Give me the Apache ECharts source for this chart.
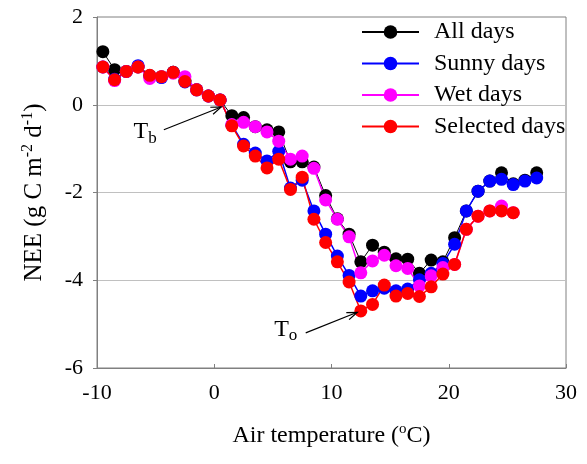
<!DOCTYPE html>
<html><head><meta charset="utf-8">
<script src="https://cdn.jsdelivr.net/npm/echarts@6/dist/echarts.min.js"></script>
<style>html,body{margin:0;padding:0;background:#fff}#c{width:587px;height:464px}</style>
</head><body><div id="c"></div>
<script>
const temps = [-9.5,-8.5,-7.5,-6.5,-5.5,-4.5,-3.5,-2.5,-1.5,-0.5,0.5,1.5,2.5,3.5,4.5,5.5,6.5,7.5,8.5,9.5,10.5,11.5,12.5,13.5,14.5,15.5,16.5,17.5,18.5,19.5,20.5,21.5,22.5,23.5,24.5,25.5,26.5,27.5];
const allDays = [1.21,0.80,0.76,0.86,0.66,0.64,0.74,0.55,0.34,0.20,0.11,-0.25,-0.29,-0.50,-0.57,-0.62,-1.30,-1.30,-1.42,-2.07,-2.60,-2.95,-3.58,-3.20,-3.36,-3.51,-3.52,-3.84,-3.54,-3.58,-3.03,-2.42,-1.97,-1.74,-1.55,-1.80,-1.72,-1.55];
const sunnyDays = [0.86,0.58,0.76,0.89,0.66,0.62,0.74,0.52,0.34,0.20,0.11,-0.46,-0.90,-1.10,-1.28,-1.06,-1.90,-1.72,-2.42,-2.95,-3.45,-3.89,-4.36,-4.24,-4.18,-4.24,-4.20,-3.99,-3.84,-3.62,-3.18,-2.42,-1.97,-1.74,-1.70,-1.82,-1.74,-1.67];
const wetDays = [0.86,0.55,0.76,0.86,0.60,0.64,0.72,0.64,0.34,0.20,0.11,-0.45,-0.40,-0.50,-0.62,-0.83,-1.24,-1.17,-1.45,-2.17,-2.61,-3.01,-3.83,-3.56,-3.43,-3.67,-3.73,-4.13,-3.90,-3.71,-3.64,-2.84,-2.54,-2.42,-2.31,-2.46];
const selectedDays = [0.86,0.57,0.76,0.86,0.67,0.64,0.74,0.53,0.34,0.20,0.11,-0.48,-0.94,-1.17,-1.44,-1.24,-1.93,-1.65,-2.61,-3.14,-3.58,-4.04,-4.70,-4.55,-4.11,-4.36,-4.30,-4.37,-4.15,-3.86,-3.64,-2.84,-2.54,-2.42,-2.42,-2.46];
const seriesNames = ['All days','Sunny days','Wet days','Selected days'];
const seriesColors = ['#000000','#0000ff','#ff00ff','#ff0000'];
const xTicks = [-10,0,10,20,30];
const yTicks = [-6,-4,-2,0,2];

const FONT = '"Liberation Serif","Times New Roman",serif';
const chart = echarts.init(document.getElementById('c'), null, {renderer:'canvas'});
function pairs(xs, ys){ return ys.map((v,i)=>[xs[i], v]); }
const seriesData = [allDays, sunnyDays, wetDays, selectedDays];
const widths = [1, 1.5, 1.5, 1.5];
const series = seriesData.map((d,i)=>({
  name: seriesNames[i], type:'line', data: pairs(temps, d),
  symbol:'circle', symbolSize:13, showSymbol:true, showAllSymbol:true,
  color: seriesColors[i],
  lineStyle:{color:seriesColors[i], width:widths[i], opacity:1, type:'solid'},
  itemStyle:{color:seriesColors[i]}
}));
const option = {
  animation:false,
  backgroundColor:'#fff',
  grid:{left:97, top:17, width:469, height:351, show:true, borderColor:'#808080', borderWidth:1},
  legend:{
    data: seriesNames, orient:'vertical', left:356, top:15, itemWidth:57, itemHeight:17, itemGap:7.5,
    textStyle:{fontFamily:FONT, fontSize:24, color:'#000', padding:[0,0,0,10]},
    selectedMode:false
  },
  xAxis:{
    type:'value', min:xTicks[0], max:xTicks[xTicks.length-1], interval:10,
    axisLine:{show:true, onZero:false, lineStyle:{color:'#808080'}},
    axisTick:{show:true, inside:true, length:4, lineStyle:{color:'#808080'}},
    splitLine:{show:false},
    axisLabel:{fontFamily:FONT, fontSize:22, color:'#000', margin:14},
    name:'{a|Air temperature (}{s|o}{a|C)}', nameLocation:'middle', nameGap:54,
    nameTextStyle:{rich:{a:{fontFamily:FONT, fontSize:24, color:'#000', lineHeight:28}, s:{fontFamily:FONT, fontSize:15, color:'#000', lineHeight:16, verticalAlign:'top'}}}
  },
  yAxis:{
    type:'value', min:yTicks[0], max:yTicks[yTicks.length-1], interval:2,
    axisLine:{show:true, onZero:false, lineStyle:{color:'#808080'}},
    axisTick:{show:true, inside:false, length:4, lineStyle:{color:'#808080'}},
    splitLine:{show:true, lineStyle:{color:['transparent','#c0c0c0','#c0c0c0','#c0c0c0','transparent'], width:1}},
    axisLabel:{fontFamily:FONT, fontSize:22, color:'#000', margin:14},
    name:'{a|NEE (g C m}{s|-2}{a| d}{s|-1}{a|)}', nameLocation:'middle', nameGap:49, nameRotate:90,
    nameTextStyle:{rich:{a:{fontFamily:FONT, fontSize:25, color:'#000', lineHeight:28}, s:{fontFamily:FONT, fontSize:16, color:'#000', lineHeight:16, verticalAlign:'top'}}}
  },
  series: series
};
chart.setOption(option);

// annotations in data coordinates
const annotations = [
  {label:'b', text:[-5.9,-0.62], tail:[-4.3,-0.57], tip:[0.6,-0.05]},
  {label:'o', text:[6.1,-5.12], tail:[7.8,-5.2], tip:[12.2,-4.73]}
];
const g = [];
annotations.forEach(a=>{
  const p0 = chart.convertToPixel({gridIndex:0}, a.tail);
  const p1 = chart.convertToPixel({gridIndex:0}, a.tip);
  const pt = chart.convertToPixel({gridIndex:0}, a.text);
  const ang = Math.atan2(p1[1]-p0[1], p1[0]-p0[0]);
  const L = 11, w = 0.35;
  const h1 = [p1[0]-L*Math.cos(ang-w), p1[1]-L*Math.sin(ang-w)];
  const h2 = [p1[0]-L*Math.cos(ang+w), p1[1]-L*Math.sin(ang+w)];
  g.push({type:'line', shape:{x1:p0[0],y1:p0[1],x2:p1[0],y2:p1[1]}, style:{stroke:'#000', lineWidth:1.2}, z:100});
  g.push({type:'polyline', shape:{points:[h1,p1,h2]}, style:{stroke:'#000', lineWidth:1.2, fill:null}, z:100});
  g.push({type:'text', x:pt[0], y:pt[1], z:100, style:{
    text:'{t|T}{s|'+a.label+'}', align:'center', verticalAlign:'middle',
    rich:{t:{fontFamily:FONT, fontSize:24, fill:'#000', lineHeight:30}, s:{fontFamily:FONT, fontSize:17, fill:'#000', lineHeight:18, verticalAlign:'bottom'}}
  }});
});
chart.setOption({graphic:g});
</script></body></html>
